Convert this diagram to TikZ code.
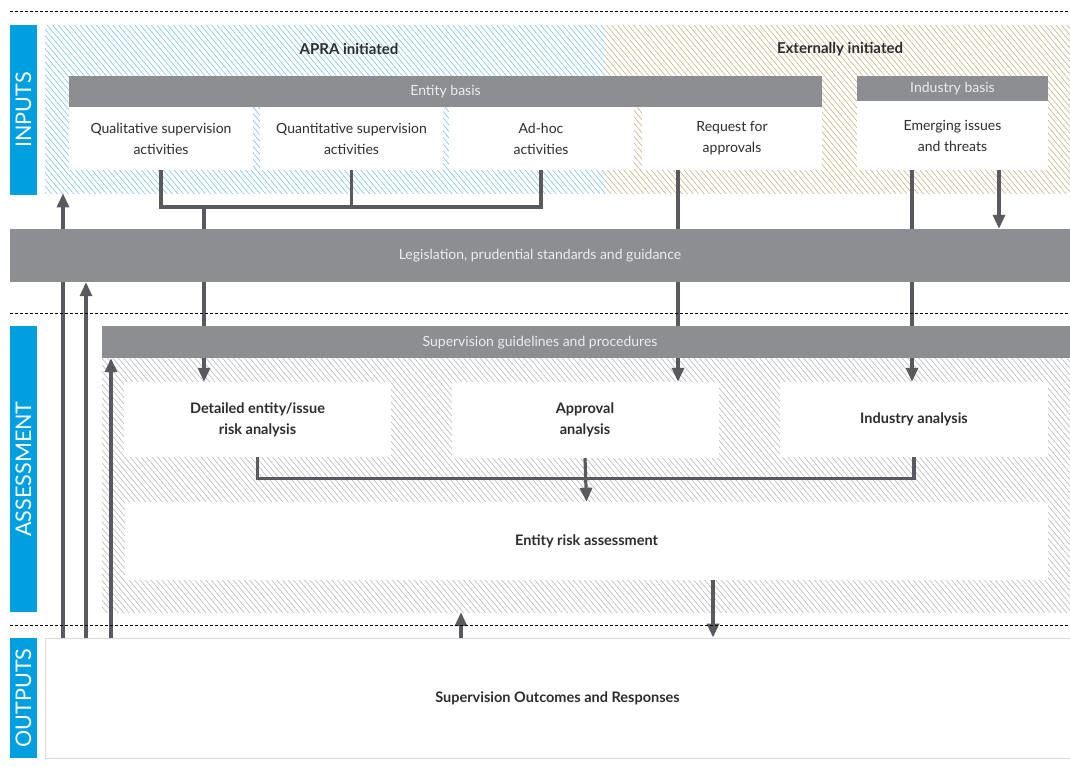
\documentclass[tikz,border=0pt]{standalone}
\usepackage{fontspec}
\setmainfont{Lato}
\usetikzlibrary{arrows.meta,patterns.meta}
\definecolor{aprablue}{RGB}{0,160,224}
\definecolor{bargray}{RGB}{141,142,145}
\definecolor{wiregray}{RGB}{90,90,94}
\definecolor{inkgray}{RGB}{45,45,48}
\definecolor{hatchblue}{RGB}{135,200,236}
\definecolor{hatchtan}{RGB}{205,186,142}
\definecolor{hatchgray}{RGB}{190,190,193}
\definecolor{bartext}{RGB}{236,236,238}
\pgfdeclarelayer{bg}
\pgfdeclarelayer{wires}
\pgfsetlayers{bg,wires,main}
\begin{document}
\begin{tikzpicture}[x=1pt, y=-1pt, font=\fontsize{14}{21}\selectfont, text=inkgray,
          band/.style={fill=aprablue, text=white, rotate=90, inner sep=0, minimum height=27, font=\fontsize{21.5}{21.5}\selectfont},
          region/.style={inner sep=0, pattern={Lines[angle=-50, distance=4.2pt, line width=0.7pt]}},
          bar/.style={fill=bargray, text=bartext, inner sep=0},
          box/.style={fill=white, align=center, inner sep=0},
          strongbox/.style={box, font=\fontsize{14.5}{21}\selectfont\bfseries},
          heading/.style={font=\fontsize{15}{16}\selectfont\bfseries},
          flow/.style={draw=wiregray, line width=3.2pt},
          tip/.style={flow, -{Triangle[width=12pt, length=14pt]}},
          divider/.style={draw=black, dash pattern=on 3pt off 2pt, line width=0.7pt}]
        \useasboundingbox (0,0) rectangle (1070,766);
        % section dividers
        \draw[divider] (10,11) -- (1070,11);
        \draw[divider] (10,313) -- (1070,313);
        \draw[divider] (10,625) -- (1070,625);
        % side labels
        \node[band, minimum width=170] (inlabel) at (23.5,110) {INPUTS};
        \node[band, minimum width=286] (asslabel) at (23.5,469) {ASSESSMENT};
        \node[band, minimum width=120] (outlabel) at (23.5,698) {OUTPUTS};
        \begin{pgfonlayer}{bg}
          \node[region, pattern color=hatchblue, minimum width=560, minimum height=168] (apra) at (325,109) {};
          \node[region, pattern color=hatchtan, minimum width=465, minimum height=168] (external) at (837.5,109) {};
          \node[region, pattern color=hatchgray, minimum width=968, minimum height=254] (assess) at (586,485) {};
        \end{pgfonlayer}
        % inputs
        \node[heading] (apratitle) at (349,49) {APRA initiated};
        \node[heading] (exttitle) at (840,49) {Externally initiated};
        \node[bar, minimum width=753, minimum height=31] (entity) at (445.5,91.5) {Entity basis};
        \node[bar, minimum width=191, minimum height=26] (industry) at (952.5,89) {Industry basis};
        \node[box, minimum width=184, minimum height=63] (qual) at (161,138.5) {Qualitative supervision\\activities};
        \node[box, minimum width=183, minimum height=63] (quant) at (351.5,138.5) {Quantitative supervision\\activities};
        \node[box, minimum width=185, minimum height=63] (adhoc) at (541,138.5) {Ad-hoc\\activities};
        \node[box, minimum width=180, minimum height=63] (request) at (732,138.5) {Request for\\approvals};
        \node[box, minimum width=191, minimum height=69] (emerging) at (952.5,135.5) {Emerging issues\\and threats};
        \node[bar, minimum width=1060, minimum height=53] (legis) at (540,255.5) {Legislation, prudential standards and guidance};
        % assessment
        \node[bar, minimum width=968, minimum height=32] (guide) at (586,342) {};
        \node[text=bartext] (guidetext) at (540,343) {Supervision guidelines and procedures};
        \node[strongbox, minimum width=267, minimum height=75] (detail) at (257.5,419.5) {Detailed entity/issue\\risk analysis};
        \node[strongbox, minimum width=267, minimum height=76] (approval) at (585,420) {Approval\\analysis};
        \node[strongbox, minimum width=268, minimum height=75] (indan) at (914,419.5) {Industry analysis};
        \node[strongbox, minimum width=923, minimum height=78] (risk) at (586.5,541) {Entity risk assessment};
        % outputs
        \node[strongbox, draw=gray!30, line width=1pt, minimum width=1025, minimum height=120] (outcome) at (557.5,698) {Supervision Outcomes and Responses};
        % lanes
        \coordinate (joint) at (204,207);
        \coordinate (reqlane) at (678,0);
        \coordinate (emlane) at (912,0);
        \coordinate (threatlane) at (999,0);
        \coordinate (lane1) at (63,0);
        \coordinate (lane2) at (86,0);
        \coordinate (lane3) at (111,0);
        \coordinate (uplane) at (461,0);
        \coordinate (downlane) at (713,0);
        \begin{pgfonlayer}{wires}
          \draw[flow] (qual.south) |- (joint) -| (adhoc.south);
          \draw[flow] (quant.south) -- (quant.south |- joint);
          \draw[tip] (joint) -- (joint |- detail.north);
          \draw[tip] (request.south -| reqlane) -- (approval.north -| reqlane);
          \draw[tip] (emerging.south -| emlane) -- (indan.north -| emlane);
          \draw[tip] (emerging.south -| threatlane) -- (legis.north -| threatlane);
          \draw[tip] (outcome.north -| lane1) -- (apra.south -| lane1);
          \draw[tip] (outcome.north -| lane2) -- (legis.south -| lane2);
          \draw[tip] (outcome.north -| lane3) -- (guide.south -| lane3);
          \draw[flow] (detail.south) -- ++(0,21) -| (indan.south);
          \draw[tip] (approval.south) -- (risk.north);
          \draw[tip] (risk.south -| downlane) -- (outcome.north -| downlane);
          \draw[tip] (outcome.north -| uplane) -- (assess.south -| uplane);
        \end{pgfonlayer}
      \end{tikzpicture}
\end{document}
